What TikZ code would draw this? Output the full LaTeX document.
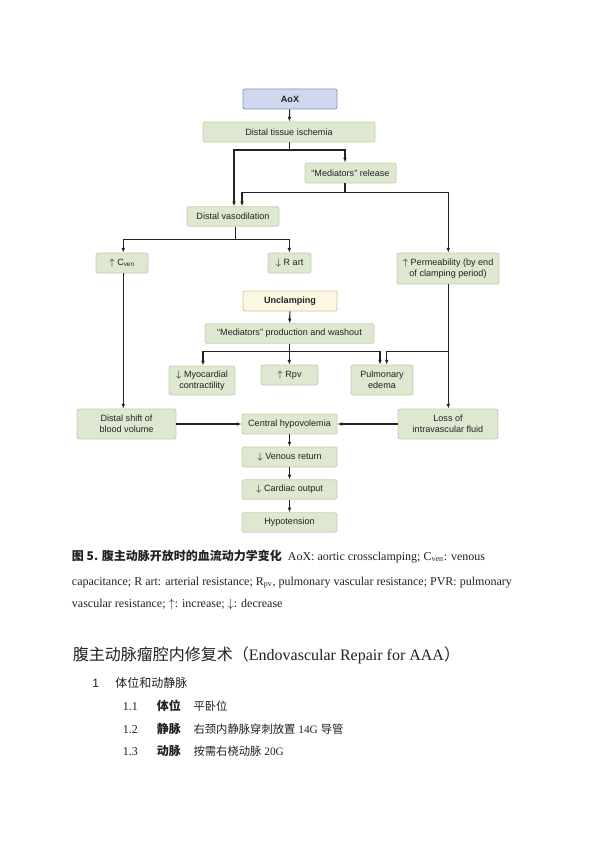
\documentclass[tikz,border=0pt]{standalone}
\usepackage{fontspec}
\setmainfont{Liberation Serif}
\newfontfamily\boxfont{Liberation Sans}
\newfontfamily\cjk{Noto Sans CJK SC}
\usetikzlibrary{arrows.meta}
\definecolor{gfill}{HTML}{DEE7D0}
\definecolor{gline}{HTML}{C3D1B2}
\definecolor{bfill}{HTML}{D0D8EE}
\definecolor{bline}{HTML}{8592C2}
\definecolor{yfill}{HTML}{FBF7E3}
\definecolor{yline}{HTML}{D6C58E}
\definecolor{ink}{HTML}{222222}
\begin{document}
\begin{tikzpicture}[x=0.75pt,y=-0.75pt,
  box/.style={rounded corners=1.6pt, inner sep=0pt, align=center,
    font=\boxfont\fontsize{6.8}{7.9}\selectfont, text=ink, line width=0.6pt,
    minimum height=15pt},
  gbox/.style={box, fill=gfill, draw=gline},
  bbox/.style={box, fill=bfill, draw=bline, font=\boxfont\bfseries\fontsize{6.8}{7.9}\selectfont},
  ybox/.style={box, fill=yfill, draw=yline, font=\boxfont\bfseries\fontsize{6.8}{7.9}\selectfont},
  arr/.style={-{Latex[length=3.6pt,width=2.8pt]}, line width=0.8pt, draw=ink},
  ln/.style={line width=0.8pt, draw=ink},
  captxt/.style={anchor=base west, inner sep=0pt, font=\fontsize{9}{11}\selectfont, text=ink},
  txt/.style={anchor=base west, inner sep=0pt, text=ink}
]
\useasboundingbox (0,0) rectangle (600,849);
\fill[white] (0,0) rectangle (600,849);

% boxes
\node[bbox, minimum width=70.5pt] (aox) at (290,99) {AoX};
\node[gbox, minimum width=129pt] (dti) at (289,132) {Distal tissue ischemia};
\node[gbox, minimum width=68.25pt] (med) at (350.5,173) {“Mediators” release};
\node[gbox, minimum width=69pt, minimum height=14.6pt] (dv) at (233,216.5) {Distal vasodilation};
\node[gbox, minimum width=39pt] (cven) at (122,263) {$\uparrow$ C\textsubscript{ven}};
\node[gbox, minimum width=32.25pt] (rart) at (289.5,263) {$\downarrow$ R art};
\node[gbox, minimum width=76.5pt, minimum height=23.25pt] (perm) at (448,268.5) {$\uparrow$ Permeability (by end\\of clamping period)};
\node[ybox, minimum width=70.5pt] (unc) at (290,301) {Unclamping};
\node[gbox, minimum width=126.75pt, minimum height=14.6pt] (mpw) at (289.5,333.5) {“Mediators” production and washout};
\node[gbox, minimum width=49.5pt, minimum height=21.75pt] (myo) at (202,380.5) {$\downarrow$ Myocardial\\contractility};
\node[gbox, minimum width=42.75pt] (rpv) at (289.5,375) {$\uparrow$ Rpv};
\node[gbox, minimum width=46.5pt, minimum height=22.5pt] (pe) at (382,380) {Pulmonary\\edema};
\node[gbox, minimum width=74.25pt, minimum height=22.5pt] (dsb) at (126.5,424) {Distal shift of\\blood volume};
\node[gbox, minimum width=71.25pt] (ch) at (289.5,424) {Central hypovolemia};
\node[gbox, minimum width=75pt, minimum height=22.5pt] (loss) at (448,424) {Loss of\\intravascular fluid};
\node[gbox, minimum width=71.25pt] (vr) at (289.5,457) {$\downarrow$ Venous return};
\node[gbox, minimum width=71.25pt, minimum height=14.6pt] (co) at (289.5,489.5) {$\downarrow$ Cardiac output};
\node[gbox, minimum width=71.25pt, minimum height=14.6pt] (hyp) at (289.5,522.5) {Hypotension};

% junction coordinates
\coordinate (j1) at (289.7,150);
\coordinate (x1) at (234,0);
\coordinate (x2) at (345,0);
\coordinate (j2) at (345,192.3);
\coordinate (x3) at (242,0);
\coordinate (x4) at (448.3,0);
\coordinate (j3) at (235.3,239.3);
\coordinate (x5) at (123.3,0);
\coordinate (x6) at (289.3,0);
\coordinate (j4) at (289.3,351.7);
\coordinate (x7) at (203,0);
\coordinate (x8) at (380,0);
\coordinate (x9) at (386.7,0);
\coordinate (j5) at (448.3,351.7);

% connectors
\draw[arr] (aox) -- (dti);
\draw[ln] (dti.south -| j1) -- (j1);
\draw[arr] (j1) -| (dv.north -| x1);
\draw[arr] (j1) -| (med.north -| x2);
\draw[ln] (med.south -| j2) -- (j2);
\draw[arr] (j2) -| (dv.north -| x3);
\draw[arr] (j2) -| (perm.north -| x4);
\draw[ln] (dv.south -| j3) -- (j3);
\draw[arr] (j3) -| (cven.north -| x5);
\draw[arr] (j3) -| (rart.north -| x6);
\draw[arr] (cven.south -| x5) -- (dsb.north -| x5);
\draw[arr] (perm.south -| x4) -- (loss.north -| x4);
\draw[arr] (j5) -| (pe.north -| x9);
\draw[arr] (unc) -- (mpw);
\draw[ln] (mpw.south -| j4) -- (j4);
\draw[arr] (j4) -| (myo.north -| x7);
\draw[arr] (j4) -| (pe.north -| x8);
\draw[arr] (j4) -- (rpv.north -| j4);
\draw[arr] (dsb) -- (ch);
\draw[arr] (loss) -- (ch);
\draw[arr] (ch) -- (vr);
\draw[arr] (vr) -- (co);
\draw[arr] (co) -- (hyp);

% caption
\node[captxt] (c1) at (71.7,560.5) {{\cjk\bfseries 图 5. 腹主动脉开放时的血流动力学变化}\ \ AoX: aortic crossclamping; C\textsubscript{ven}: venous};
\node[captxt] (c2) at (71.7,585.5) {capacitance; R art: arterial resistance; R\textsubscript{pv}, pulmonary vascular resistance; PVR: pulmonary};
\node[captxt] (c3) at (71.7,607.5) {vascular resistance; $\uparrow$: increase; $\downarrow$: decrease};

% heading and items
\node[txt, font=\fontsize{12}{14}\selectfont] (h1) at (72.7,660.5) {{\cjk 腹主动脉瘤腔内修复术（}Endovascular Repair for AAA{\cjk ）}};
\node[txt, font=\boxfont\fontsize{9}{11}\selectfont] (n1) at (92,687.5) {1};
\node[txt, font=\cjk\fontsize{9}{11}\selectfont] (t1) at (115,687.5) {体位和动静脉};
\node[txt, font=\fontsize{9}{11}\selectfont] (n11) at (122.7,710.5) {1.1};
\node[txt, font=\cjk\bfseries\fontsize{9}{11}\selectfont] (b11) at (156.7,710.5) {体位};
\node[txt, font=\cjk\fontsize{8.5}{11}\selectfont] (v11) at (193.3,710.5) {平卧位};
\node[txt, font=\fontsize{9}{11}\selectfont] (n12) at (122.7,733) {1.2};
\node[txt, font=\cjk\bfseries\fontsize{9}{11}\selectfont] (b12) at (156.7,733) {静脉};
\node[txt, font=\fontsize{8.5}{11}\selectfont] (v12) at (193.3,733) {{\cjk 右颈内静脉穿刺放置} 14G {\cjk 导管}};
\node[txt, font=\fontsize{9}{11}\selectfont] (n13) at (122.7,755.5) {1.3};
\node[txt, font=\cjk\bfseries\fontsize{9}{11}\selectfont] (b13) at (156.7,755.5) {动脉};
\node[txt, font=\fontsize{8.5}{11}\selectfont] (v13) at (193.3,755.5) {{\cjk 按需右桡动脉} 20G};
\end{tikzpicture}
\end{document}
